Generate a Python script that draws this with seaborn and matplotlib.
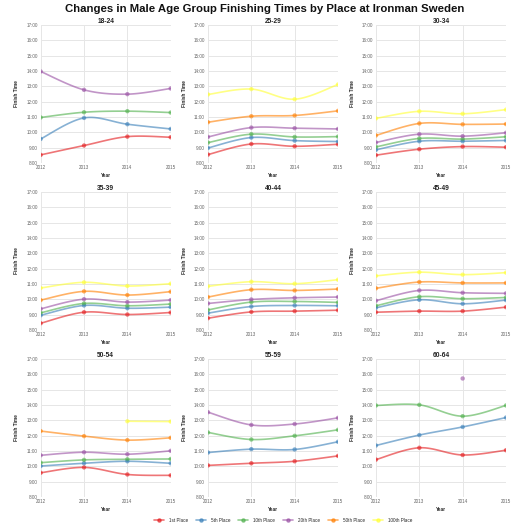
import numpy as np
import pandas as pd
import matplotlib
matplotlib.use("Agg")
import matplotlib.pyplot as plt
import seaborn as sns
from matplotlib.ticker import FixedLocator
from matplotlib.lines import Line2D

years = [2012, 2013, 2014, 2015]
groups = ["18-24", "25-29", "30-34", "35-39", "40-44", "45-49", "50-54", "55-59", "60-64"]
places = ["1st Place", "5th Place", "10th Place", "20th Place", "50th Place", "100th Place"]
colors = ["#e41a1c", "#377eb8", "#4daf4a", "#984ea3", "#ff7f00", "#ffff33"]

# finishing times in hours, per age group, per place; None = no data
t_18_24 = {"1st Place": [8.53, 9.14, 9.72, 9.68], "5th Place": [9.57, 10.94, 10.53, 10.22],
           "10th Place": [10.97, 11.31, 11.38, 11.29], "20th Place": [13.97, 12.77, 12.49, 12.86]}
t_25_29 = {"1st Place": [8.55, 9.24, 9.09, 9.22], "5th Place": [8.98, 9.66, 9.46, 9.40],
           "10th Place": [9.33, 9.88, 9.70, 9.72], "20th Place": [9.70, 10.31, 10.27, 10.22],
           "50th Place": [10.66, 11.05, 11.10, 11.40], "100th Place": [12.47, 12.82, 12.16, 13.12]}
t_30_34 = {"1st Place": [8.51, 8.90, 9.07, 9.03], "5th Place": [8.86, 9.42, 9.42, 9.47],
           "10th Place": [9.05, 9.60, 9.56, 9.71], "20th Place": [9.34, 9.88, 9.75, 9.97],
           "50th Place": [9.80, 10.58, 10.52, 10.54], "100th Place": [10.91, 11.37, 11.21, 11.48]}
t_35_39 = {"1st Place": [8.44, 9.16, 9.01, 9.14], "5th Place": [8.96, 9.60, 9.42, 9.49],
           "10th Place": [9.12, 9.73, 9.58, 9.69], "20th Place": [9.38, 10.01, 9.82, 9.95],
           "50th Place": [9.95, 10.52, 10.28, 10.50], "100th Place": [10.74, 11.11, 10.87, 11.02]}
t_40_44 = {"1st Place": [8.77, 9.18, 9.23, 9.29], "5th Place": [9.10, 9.53, 9.60, 9.58],
           "10th Place": [9.31, 9.82, 9.86, 9.80], "20th Place": [9.73, 9.99, 10.10, 10.15],
           "50th Place": [10.15, 10.63, 10.58, 10.67], "100th Place": [10.85, 11.15, 11.02, 11.28]}
t_45_49 = {"1st Place": [9.16, 9.23, 9.23, 9.49], "5th Place": [9.45, 9.97, 9.71, 9.95],
           "10th Place": [9.58, 10.17, 10.04, 10.12], "20th Place": [9.91, 10.58, 10.43, 10.39],
           "50th Place": [10.72, 11.13, 11.07, 11.07], "100th Place": [11.53, 11.77, 11.61, 11.74]}
t_50_54 = {"1st Place": [9.58, 9.93, 9.47, 9.41], "5th Place": [10.02, 10.20, 10.33, 10.20],
           "10th Place": [10.24, 10.42, 10.46, 10.48], "20th Place": [10.72, 10.92, 10.79, 11.01],
           "50th Place": [12.30, 11.97, 11.71, 11.86], "100th Place": [None, None, 12.94, 12.92]}
t_55_59 = {"1st Place": [10.06, 10.20, 10.33, 10.68], "5th Place": [10.90, 11.12, 11.10, 11.60],
           "10th Place": [12.21, 11.75, 11.99, 12.38], "20th Place": [13.53, 12.70, 12.76, 13.16]}
t_60_64 = {"1st Place": [10.44, 11.21, 10.74, 11.05], "5th Place": [11.36, 12.04, 12.57, 13.18],
           "10th Place": [13.97, 14.01, 13.27, 13.97], "20th Place": [None, None, 15.73, None]}
tables = [t_18_24, t_25_29, t_30_34, t_35_39, t_40_44, t_45_49, t_50_54, t_55_59, t_60_64]

rows = []
for g, tab in zip(groups, tables):
    for p, vals in tab.items():
        for y, v in zip(years, vals):
            if v is not None:
                rows.append({"group": g, "place": p, "year": y, "time": v})
df = pd.DataFrame(rows)


def cardinal(xs, ys, n=30):
    """Catmull-Rom style curve through the points (for smooth drawing)."""
    xs = np.asarray(xs, float); ys = np.asarray(ys, float)
    if len(xs) < 3:
        return xs, ys
    px = np.concatenate([[xs[0]], xs, [xs[-1]]])
    py = np.concatenate([[ys[0]], ys, [ys[-1]]])
    ox, oy = [], []
    for i in range(1, len(px) - 2):
        t = np.linspace(0, 1, n, endpoint=(i == len(px) - 3))
        p0, p1, p2, p3 = py[i - 1], py[i], py[i + 1], py[i + 2]
        x0, x1, x2, x3 = px[i - 1], px[i], px[i + 1], px[i + 2]
        m1y = (p2 - p0) / 2; m2y = (p3 - p1) / 2
        m1x = (x2 - x0) / 2; m2x = (x3 - x1) / 2
        h00 = 2 * t**3 - 3 * t**2 + 1; h10 = t**3 - 2 * t**2 + t
        h01 = -2 * t**3 + 3 * t**2; h11 = t**3 - t**2
        ox.append(h00 * x1 + h10 * m1x + h01 * x2 + h11 * m2x)
        oy.append(h00 * p1 + h10 * m1y + h01 * p2 + h11 * m2y)
    return np.concatenate(ox), np.concatenate(oy)


sns.set_theme(style="white")
plt.rcParams['font.family'] = ['Liberation Sans', 'DejaVu Sans']

fig = plt.figure(figsize=(5.3, 5.3), dpi=100)
palette = dict(zip(places, colors))

W = 130 / 530
H = 138 / 530
lefts = [40.7 / 530, 208 / 530, 376 / 530]
bottoms = [1 - 163 / 530, 1 - 330 / 530, 1 - 497 / 530]

for i, g in enumerate(groups):
    r, c = divmod(i, 3)
    ax = fig.add_axes([lefts[c], bottoms[r], W, H])
    sub = df[df.group == g]
    smooth = []
    for p in places:
        s = sub[sub.place == p].sort_values("year")
        if len(s) >= 2:
            sx, sy = cardinal(s.year.values, s.time.values)
            smooth.append(pd.DataFrame({"year": sx, "time": sy, "place": p}))
    if smooth:
        sm = pd.concat(smooth)
        sns.lineplot(data=sm, x="year", y="time", hue="place", palette=palette,
                     hue_order=[p for p in places if p in sm.place.unique()],
                     estimator=None, sort=False, units="place", linewidth=1.2, alpha=0.6,
                     legend=False, ax=ax)
    sns.scatterplot(data=sub, x="year", y="time", hue="place", palette=palette,
                    hue_order=[p for p in places if p in sub.place.unique()],
                    s=10, alpha=0.6, edgecolor=None, linewidth=0, legend=False, ax=ax)
    ax.set_xlim(2012, 2015)
    ax.set_ylim(8, 17)
    ax.xaxis.set_major_locator(FixedLocator(years))
    ax.yaxis.set_major_locator(FixedLocator(range(8, 18)))
    ax.set_xticklabels([str(y) for y in years])
    ax.set_yticklabels([f"{h}:00" for h in range(8, 18)])
    ax.tick_params(labelsize=3.3, colors="#666666", length=0)
    ax.tick_params(axis="y", pad=2.2)
    ax.tick_params(axis="x", pad=1.2)
    ax.grid(True, color="#e6e6e6", linewidth=0.7)
    for sp in ax.spines.values():
        sp.set_visible(False)
    ax.set_title(g, fontsize=4.8, fontweight="bold", pad=1.5, color="#222222")
    ax.set_xlabel("Year", fontsize=3.4, fontweight="bold", labelpad=2.5, color="#222222")
    ax.set_ylabel("Finish Time", fontsize=3.4, fontweight="bold", labelpad=5, color="#222222")

fig.text(0.5, 1 - 9.5 / 530,
         "Changes in Male Age Group Finishing Times by Place at Ironman Sweden",
         fontsize=8.2, fontweight="bold", ha="center", va="center", color="#111111")

handles = [Line2D([0], [0], color=col, lw=1.2, alpha=0.6, marker="o", markersize=2.3)
           for col in colors]
fig.legend(handles, places, loc="center", bbox_to_anchor=(283 / 530, 1 - 520 / 530), ncol=6,
           frameon=False, fontsize=3.3, handlelength=2.2, columnspacing=1.7, handletextpad=1.1)

fig.savefig("out.png", dpi=100)
